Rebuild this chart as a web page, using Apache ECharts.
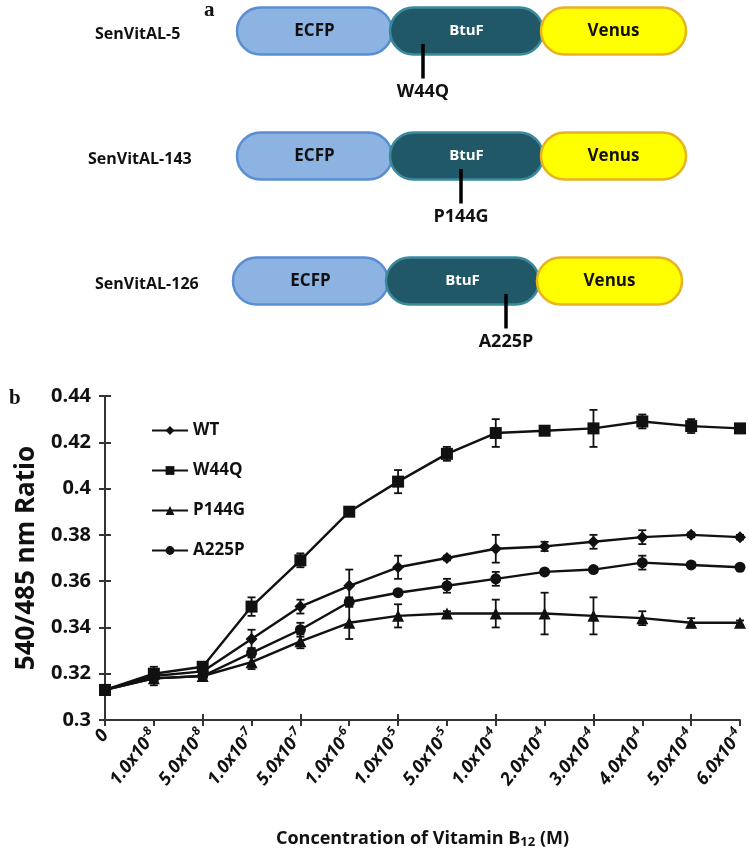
<!DOCTYPE html>
<html>
<head>
<meta charset="utf-8">
<script src="https://cdn.jsdelivr.net/npm/echarts@6/dist/echarts.min.js"></script>
<style>
  html, body { margin: 0; padding: 0; background: #fff; }
  #chart { width: 749px; height: 855px; }
</style>
</head>
<body>
<div id="chart"></div>
<script>
// concentrations of vitamin B12 (M), mantissa^exponent
const concentrations = ["0", "1.0x10^-8", "5.0x10^-8", "1.0x10^-7", "5.0x10^-7", "1.0x10^-6", "1.0x10^-5",
  "5.0x10^-5", "1.0x10^-4", "2.0x10^-4", "3.0x10^-4", "4.0x10^-4", "5.0x10^-4", "6.0x10^-4"]

const seriesNames = ["WT", "W44Q", "P144G", "A225P"]
const seriesSymbols = ["diamond", "rect", "triangle", "circle"]

const wtRatio = [0.313, 0.319, 0.321, 0.335, 0.349, 0.358, 0.366, 0.370, 0.374, 0.375, 0.377, 0.379, 0.380, 0.379]
const wtErr = [0, 0.002, 0.001, 0.004, 0.003, 0.007, 0.005, 0.001, 0.006, 0.002, 0.003, 0.003, 0.001, 0.001]

const w44qRatio = [0.313, 0.320, 0.323, 0.349, 0.369, 0.390, 0.403, 0.415, 0.424, 0.425, 0.426, 0.429, 0.427, 0.426]
const w44qErr = [0, 0.003, 0.001, 0.004, 0.003, 0.001, 0.005, 0.003, 0.006, 0.001, 0.008, 0.003, 0.003, 0.001]

const p144gRatio = [0.313, 0.318, 0.319, 0.325, 0.334, 0.342, 0.345, 0.346, 0.346, 0.346, 0.345, 0.344, 0.342, 0.342]
const p144gErr = [0, 0.002, 0.001, 0.003, 0.003, 0.007, 0.005, 0.001, 0.006, 0.009, 0.008, 0.003, 0.002, 0.001]

const a225pRatio = [0.313, 0.318, 0.319, 0.329, 0.339, 0.351, 0.355, 0.358, 0.361, 0.364, 0.365, 0.368, 0.367, 0.366]
const a225pErr = [0, 0.003, 0.001, 0.002, 0.003, 0.002, 0.001, 0.003, 0.003, 0.001, 0.001, 0.003, 0.001, 0.001]

const yTicks = { min: 0.3, max: 0.44, interval: 0.02 }

// panel a: fusion constructs
const constructs = ["SenVitAL-5", "SenVitAL-143", "SenVitAL-126"]
const mutations = ["W44Q", "P144G", "A225P"]
const domains = ["ECFP", "BtuF", "Venus"]

const allRatio = [wtRatio, w44qRatio, p144gRatio, a225pRatio]
const allErr = [wtErr, w44qErr, p144gErr, a225pErr]

const FONT = "Open Sans"
const chart = echarts.init(document.getElementById("chart"))

// ---- diagram (panel a) ----
const domainStyle = {
  ECFP: { fill: "#8db3e2", stroke: "#5a8ed2", color: "#111" },
  BtuF: { fill: "#215868", stroke: "#3b8a9c", color: "#fff" },
  Venus: { fill: "#ffff00", stroke: "#e8b320", color: "#111" }
}
const rowLayout = [
  { cy: 31, labelX: 95, left: 237, mutX: 423 },
  { cy: 156, labelX: 88, left: 237, mutX: 461 },
  { cy: 281, labelX: 95, left: 233, mutX: 506 }
]
const pillW = [155, 153, 145]
const pillH = 47

const graphic = [
  { type: "text", left: 204, top: 0, style: { text: "a", font: "bold 21px 'Liberation Serif'", fill: "#111" } },
  { type: "text", left: 9, top: 388, style: { text: "b", font: "bold 21px 'Liberation Serif'", fill: "#111" } }
]
constructs.forEach((name, i) => {
  const row = rowLayout[i]
  graphic.push({
    type: "text", x: row.labelX, y: row.cy + 3,
    style: { text: name, font: `bold 16px '${FONT}'`, fill: "#111", textVerticalAlign: "middle" }
  })
  let x = row.left
  domains.forEach((d, j) => {
    const st = domainStyle[d]
    graphic.push({
      type: "rect", z: 10 + j,
      shape: { x: x, y: row.cy - pillH / 2, width: pillW[j], height: pillH, r: pillH / 2 },
      style: { fill: st.fill, stroke: st.stroke, lineWidth: 2.5 }
    })
    graphic.push({
      type: "text", z: 20, x: x + pillW[j] / 2, y: row.cy,
      style: {
        text: d, font: `bold ${d === "BtuF" ? 15 : 17}px '${FONT}'`, fill: st.color,
        textAlign: "center", textVerticalAlign: "middle"
      }
    })
    x += pillW[j] - 2
  })
  graphic.push({
    type: "line", z: 30,
    shape: { x1: row.mutX, y1: row.cy + 13, x2: row.mutX, y2: row.cy + pillH / 2 + 24 },
    style: { stroke: "#000", lineWidth: 3.5 }
  })
  graphic.push({
    type: "text", z: 30, x: row.mutX, y: row.cy + pillH / 2 + 37,
    style: { text: mutations[i], font: `bold 18px '${FONT}'`, fill: "#111", textAlign: "center", textVerticalAlign: "middle" }
  })
})

// ---- error bars ----
function errorBarRender(params, api) {
  const idx = api.value(0)
  const lo = api.coord([idx, api.value(1)])
  const hi = api.coord([idx, api.value(2)])
  const w = 4
  const style = { stroke: "#111", lineWidth: 1.8 }
  return {
    type: "group",
    children: [
      { type: "line", shape: { x1: hi[0], y1: hi[1], x2: lo[0], y2: lo[1] }, style },
      { type: "line", shape: { x1: hi[0] - w, y1: hi[1], x2: hi[0] + w, y2: hi[1] }, style },
      { type: "line", shape: { x1: lo[0] - w, y1: lo[1], x2: lo[0] + w, y2: lo[1] }, style }
    ]
  }
}

const series = []
seriesNames.forEach((name, i) => {
  series.push({
    name: name,
    type: "line",
    data: allRatio[i],
    symbol: seriesSymbols[i],
    symbolSize: seriesSymbols[i] === "circle" ? 11 : 12,
    lineStyle: { color: "#111", width: 2.4 },
    itemStyle: { color: "#111" },
    z: 3
  })
  series.push({
    type: "custom",
    name: name + " err",
    renderItem: errorBarRender,
    data: allRatio[i].map((v, k) => [k, v - allErr[i][k], v + allErr[i][k]]),
    z: 4,
    silent: true
  })
})

function xLabel(v) {
  const parts = v.split("^")
  if (parts.length === 1) return "{m|" + v + "}"
  return "{m|" + parts[0] + "}{s|" + parts[1] + "}"
}

const axisColor = "#333"
const option = {
  animation: false,
  backgroundColor: "#fff",
  graphic: graphic,
  grid: { left: 105, right: 9, top: 396, bottom: 135 },
  legend: {
    data: seriesNames,
    orient: "vertical",
    left: 146,
    top: 417,
    itemWidth: 36,
    itemHeight: 11,
    itemGap: 23,
    textStyle: { fontFamily: FONT, fontSize: 17, fontWeight: "bold", color: "#111", lineHeight: 13 }
  },
  xAxis: [
    {
      type: "category",
      data: concentrations,
      boundaryGap: false,
      axisLine: { lineStyle: { color: axisColor, width: 2 } },
      axisTick: { length: 6, lineStyle: { color: axisColor, width: 2 } },
      axisLabel: {
        rotate: 52,
        margin: 12,
        interval: 0,
        color: "#111",
        formatter: xLabel,
        rich: {
          m: { fontFamily: FONT, fontSize: 18, fontStyle: "italic", fontWeight: "bold", color: "#111" },
          s: { fontFamily: FONT, fontSize: 12, fontStyle: "italic", fontWeight: "bold", color: "#111", padding: [0, 0, 11, 0] }
        }
      },
      name: "{a|Concentration of Vitamin B}{b|12}{a| (M)}",
      nameLocation: "middle",
      nameGap: 108,
      nameTextStyle: {
        rich: {
          a: { fontFamily: FONT, fontSize: 18, fontWeight: "bold", color: "#111" },
          b: { fontFamily: FONT, fontSize: 13, fontWeight: "bold", color: "#111", padding: [8, 0, 0, 0] }
        }
      },
      splitLine: { show: false }
    },
    {
      type: "category",
      data: concentrations,
      boundaryGap: false,
      position: "bottom",
      axisLine: { show: false },
      axisTick: { inside: true, length: 6, lineStyle: { color: axisColor, width: 2 } },
      axisLabel: { show: false }
    }
  ],
  yAxis: [
    {
      type: "value",
      min: yTicks.min,
      max: yTicks.max,
      interval: yTicks.interval,
      axisLine: { show: true, lineStyle: { color: axisColor, width: 2 } },
      axisTick: { show: true, length: 6, lineStyle: { color: axisColor, width: 2 } },
      axisLabel: { margin: 14, fontFamily: FONT, fontSize: 20, fontWeight: "bold", color: "#111" },
      splitLine: { show: false },
      name: "540/485 nm Ratio",
      nameLocation: "middle",
      nameRotate: 90,
      nameGap: 64,
      nameTextStyle: { fontFamily: FONT, fontSize: 26, fontWeight: "bold", color: "#111" }
    },
    {
      type: "value",
      min: yTicks.min,
      max: yTicks.max,
      interval: yTicks.interval,
      position: "left",
      axisLine: { show: false },
      axisTick: { show: true, inside: true, length: 6, lineStyle: { color: axisColor, width: 2 } },
      axisLabel: { show: false },
      splitLine: { show: false }
    }
  ],
  series: series
}

chart.setOption(option)
</script>
</body>
</html>
